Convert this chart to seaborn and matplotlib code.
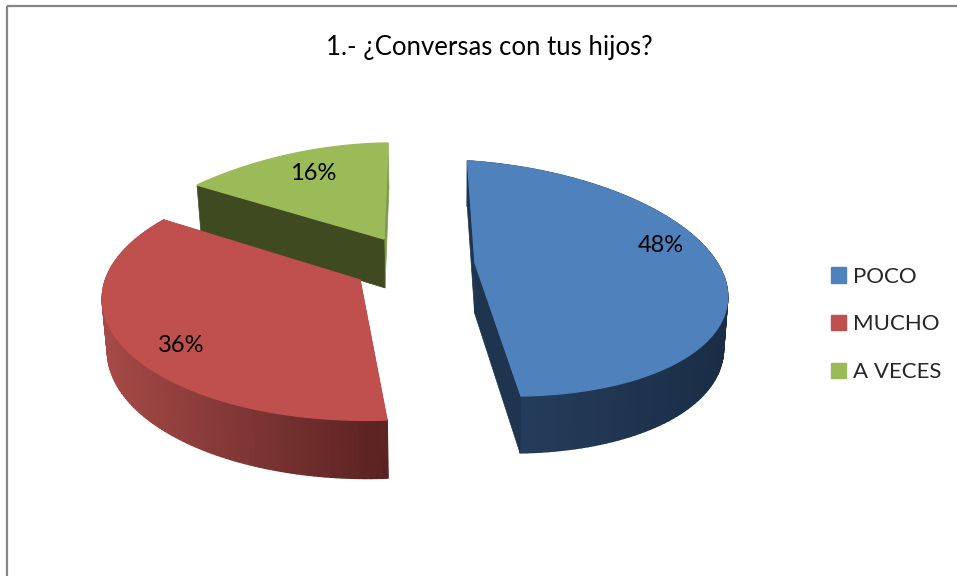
import numpy as np
import seaborn as sns
import matplotlib.pyplot as plt
from matplotlib.collections import PolyCollection
from matplotlib.patches import Patch

TITLE = '1.- ¿Conversas con tus hijos?'
categories = ['POCO', 'MUCHO', 'A VECES']
values = [48, 36, 16]
colors = ['#4F81BD', '#C0504D', '#9BBB59']

# where each exploded slice lands on the picture: apex, first corner, arc middle, last corner
blue_pts = [(475, 263), (467.5, 161), (722, 272), (521, 396)]
red_pts = [(360, 280), (387, 420), (121, 344), (164, 220)]
green_pts = [(384, 239), (197, 185), (296, 153), (388, 143)]
label_pos = [(661, 246), (181, 346), (313, 174)]

sns.set_theme(style='white')
plt.rcParams['font.family'] = ['Lato', 'DejaVu Sans']


def fit_plane(src, dst):
    a = []
    b = []
    for (x, y), (u, v) in zip(src, dst):
        a.append([x, y, 1, 0, 0, 0, -u * x, -u * y])
        a.append([0, 0, 0, x, y, 1, -v * x, -v * y])
        b += [u, v]
    return np.append(np.linalg.solve(np.array(a), np.array(b)), 1).reshape(3, 3)


def to_plane(h, pts):
    p = np.c_[pts, np.ones(len(pts))] @ h.T
    return p[:, :2] / p[:, 2:]


def drop(pts):
    # the lower rim: sits a bit further down near the viewer and leans to the middle
    out = np.array(pts, dtype=float)
    out[:, 1] += 37 + 0.05 * out[:, 1]
    out[:, 0] -= (out[:, 0] - 450) * 0.015
    return out


def wall(ax, a, b, color, z):
    top = np.array([a, b])
    ax.fill(*np.r_[top, drop(top)[::-1]].T, color=color, lw=0.5, zorder=z)


fig = plt.figure(figsize=(9.57, 5.76), dpi=100)
ax = fig.add_axes([0, 0, 1, 1])
palette = sns.color_palette(colors)
wedges, _, pcts = ax.pie(values, colors=palette, startangle=90, counterclock=False,
                         autopct='%.0f%%', textprops={'fontsize': 17, 'color': 'black'})

targets = [blue_pts, red_pts, green_pts]
side_left = ['#274162', '#A64A47', '#3F4A21']
side_right = ['#1A2D45', '#592221', '#3F4A21']
layer = [2, 3, 1]

for i, w in enumerate(wedges):
    t1, t2 = sorted([w.theta1, w.theta2])
    # pie runs clockwise, so walk the arc from the slice's first edge to its last
    ang = np.radians(np.linspace(t2, t1, 120))
    arc = np.c_[np.cos(ang), np.sin(ang)]
    src = [(0, 0), arc[0], arc[60], arc[-1]]
    h = fit_plane(src, targets[i])
    rim = to_plane(h, arc)
    apex = targets[i][0]
    z = layer[i] * 10
    w.remove()

    # the green slice shows no outer side in the reference, it faces away
    if i != 2:
        low = drop(rim)
        quads = [[rim[k], rim[k + 1], low[k + 1], low[k]] for k in range(len(rim) - 1)]
        left, right = np.array(sns.color_palette([side_left[i], side_right[i]]))
        x0, x1 = (rim[:, 0].min(), rim[:, 0].max())
        mix = ((rim[:-1, 0] - x0) / (x1 - x0))[:, None]
        shade = left * (1 - mix) + right * mix
        ax.add_collection(PolyCollection(quads, facecolors=shade, edgecolors=shade, linewidths=1.2, zorder=z))

    wall_col = {0: '#1F344F', 1: '#5E2423', 2: '#3F4A21'}[i]
    wall(ax, apex, rim[-1], '#80994A' if i == 2 else wall_col, z + 1)
    wall(ax, apex, rim[0], wall_col, z + 1)
    ax.fill(*np.r_[[apex], rim].T, facecolor=palette[i], edgecolor=palette[i], lw=1.0, zorder=z + 2)

    pcts[i].set_position(label_pos[i])
    pcts[i].set_ha('center')
    pcts[i].set_va('center')
    pcts[i].set_zorder(50)

ax.set_xlim(0, 957)
ax.set_ylim(576, 0)
ax.set_aspect('auto')
ax.axis('off')

ax.plot([7.3, 7.3], [6, 576], color='#868686', lw=1.6, solid_capstyle='butt', clip_on=False)
ax.plot([7, 957], [6, 6], color='#868686', lw=1.6, solid_capstyle='butt', clip_on=False)
ax.text(489, 47, TITLE, ha='center', va='center', fontsize=18.5, color='black')

handles = [Patch(color=c) for c in palette]
ax.legend(handles, categories, loc='upper left', bbox_to_anchor=(0.868, 0.537), frameon=False,
          fontsize=16, handlelength=0.68, handleheight=0.68, handletextpad=0.32,
          labelspacing=1.25, borderpad=0, borderaxespad=0)

fig.savefig('out.png', dpi=100)
